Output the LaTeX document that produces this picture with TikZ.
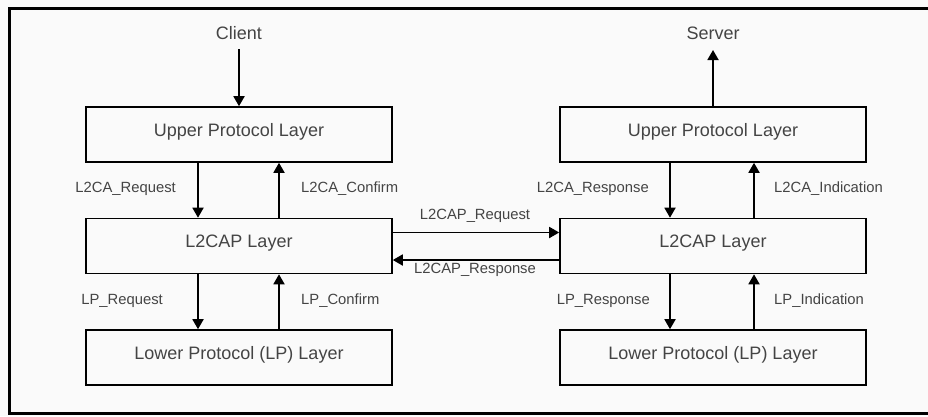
\documentclass[tikz,border=0pt]{standalone}
\usepackage{fontspec}
\setmainfont{Liberation Sans}
\usetikzlibrary{arrows.meta}
\definecolor{ink}{HTML}{444444}
\definecolor{paper}{HTML}{FAFAFA}
\begin{document}
\begin{tikzpicture}[x=1pt,y=-1pt,
  layerbox/.style={draw=black, line width=1.6pt, minimum width=306pt, minimum height=55pt,
    inner sep=0pt, text height=13pt, text depth=10pt, text=ink,
    font=\fontsize{18}{20}\selectfont},
  endpoint/.style={inner sep=0pt, anchor=base, text=ink, font=\fontsize{18}{20}\selectfont},
  prim/.style={inner sep=0pt, text=ink, font=\fontsize{14.8}{17}\selectfont},
  flow/.style={draw=black, line width=1.8pt, -{Triangle[length=10pt,width=11pt]}}]
  % page and frame
  \fill[paper] (0,0) rectangle (928,416);
  \useasboundingbox (0,0) rectangle (928,416);
  \draw[line width=3pt] (960,8.5) -- (9.5,8.5) -- (9.5,413) -- (960,413);

  % client stack
  \node[endpoint] (client) at (239,39) {Client};
  \node[layerbox] (upL) at (239,134.5) {Upper Protocol Layer};
  \node[layerbox] (l2L) at (239,246) {L2CAP Layer};
  \node[layerbox] (lpL) at (239,357.5) {Lower Protocol (LP) Layer};

  % server stack
  \node[endpoint] (server) at (713,39) {Server};
  \node[layerbox] (upR) at (713,134.5) {Upper Protocol Layer};
  \node[layerbox] (l2R) at (713,246) {L2CAP Layer};
  \node[layerbox] (lpR) at (713,357.5) {Lower Protocol (LP) Layer};

  % column and row guides for the connectors
  \coordinate (cdn) at (198,0);
  \coordinate (cup) at (279,0);
  \coordinate (sdn) at (670,0);
  \coordinate (sup) at (754,0);
  \coordinate (rq) at (0,232.5);
  \coordinate (rs) at (0,260);
  \coordinate (clientfoot) at (239,49);
  \coordinate (serverfoot) at (713,50);

  % client side
  \draw[flow] (clientfoot) -- (upL.north);
  \draw[flow] (upL.south -| cdn) -- (l2L.north -| cdn);
  \draw[flow] (l2L.north -| cup) -- (upL.south -| cup);
  \draw[flow] (l2L.south -| cdn) -- (lpL.north -| cdn);
  \draw[flow] (lpL.north -| cup) -- (l2L.south -| cup);

  % server side
  \draw[flow] (upR.north) -- (serverfoot);
  \draw[flow] (upR.south -| sdn) -- (l2R.north -| sdn);
  \draw[flow] (l2R.north -| sup) -- (upR.south -| sup);
  \draw[flow] (l2R.south -| sdn) -- (lpR.north -| sdn);
  \draw[flow] (lpR.north -| sup) -- (l2R.south -| sup);

  % peer exchange
  \draw[flow] (l2L.east |- rq) -- (l2R.west |- rq);
  \draw[flow] (l2R.west |- rs) -- (l2L.east |- rs);

  % primitive labels
  \node[prim, anchor=base east] (l1) at (176,192.5) {L2CA\_Request};
  \node[prim, anchor=base west] (l2) at (301,192.5) {L2CA\_Confirm};
  \node[prim, anchor=base east] (l3) at (649,192.5) {L2CA\_Response};
  \node[prim, anchor=base west] (l4) at (774,192.5) {L2CA\_Indication};
  \node[prim, anchor=base east] (l5) at (163,304) {LP\_Request};
  \node[prim, anchor=base west] (l6) at (301,304) {LP\_Confirm};
  \node[prim, anchor=base east] (l7) at (650,304) {LP\_Response};
  \node[prim, anchor=base west] (l8) at (774,304) {LP\_Indication};
  \node[prim, anchor=base] (l9) at (475,219) {L2CAP\_Request};
  \node[prim, anchor=base] (l10) at (475,273.5) {L2CAP\_Response};
\end{tikzpicture}
\end{document}
